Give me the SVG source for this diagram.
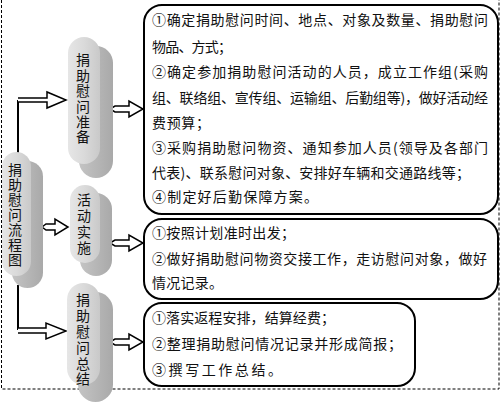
<svg xmlns="http://www.w3.org/2000/svg" xmlns:xlink="http://www.w3.org/1999/xlink" width="501" height="405" viewBox="0 0 501 405">
<style>
.frame{fill:none;stroke:#000;stroke-width:1;stroke-dasharray:3 2}
.box{fill:#fff;stroke:#000;stroke-width:2}
.face{fill:url(#gFace)}
.shadow{fill:url(#gShadow)}
.pt{font-family:"Noto Sans CJK SC","Noto Sans",sans-serif;font-size:14px;fill:#111;writing-mode:vertical-rl}
.bt{font-family:"Noto Sans CJK SC","Noto Sans",sans-serif;font-size:14px;fill:#111}
.arr{fill:#fff;stroke:#000;stroke-width:1.5;stroke-linejoin:miter}
.ln{fill:none;stroke:#000;stroke-width:2}
</style>
<defs>
<linearGradient id="gFace" x1="0" y1="0" x2="1" y2="0">
<stop offset="0" stop-color="#e6e6e6"/>
<stop offset="0.5" stop-color="#dadada"/>
<stop offset="1" stop-color="#c9c9c9"/>
</linearGradient>
<linearGradient id="gShadow" x1="0" y1="0" x2="1" y2="0">
<stop offset="0" stop-color="#c4c4c4"/>
<stop offset="1" stop-color="#a9a9a9"/>
</linearGradient>
<path id="arL" class="arr" d="M0,0 L5,-3 L19,-3 L19,-8 L33,0 L19,8 L19,3 L5,3 Z"/>
<path id="arS" class="arr" d="M0,0 L4,-3 L13,-3 L13,-8 L26,0 L13,8 L13,3 L4,3 Z"/>
</defs>
<rect width="501" height="405" fill="#fff"/>
<path class="frame" d="M1.5,0 V389 H499 V0"/>

<g id="connectors">
<path class="ln" d="M18,155 V100"/>
<path class="arr" d="M18,98 L47,98 L47,92 L66,100 L47,108 L47,102 L18,102"/>
<path class="ln" d="M18,285 V330"/>
<path class="arr" d="M18,328 L46,328 L46,323 L66,331 L46,339 L46,333 L18,333"/>
<use xlink:href="#arS" x="42" y="227"/>
<use xlink:href="#arL" x="110" y="109"/>
<use xlink:href="#arL" x="110" y="243"/>
<use xlink:href="#arL" x="110" y="342"/>
</g>

<g id="node-root">
<rect class="shadow" x="12" y="161" width="31" height="127" rx="15.5"/>
<rect class="face" x="2" y="152" width="29" height="124" rx="14.5"/>
<text class="pt" x="15" y="163" letter-spacing="1">捐助慰问流程图</text>
</g>

<g id="node-prepare">
<rect class="shadow" x="79" y="46" width="34" height="132" rx="17"/>
<rect class="face" x="68" y="37" width="32" height="127" rx="16"/>
<text class="pt" x="83" y="53" letter-spacing="1.4">捐助慰问准备</text>
</g>

<g id="node-implement">
<rect class="shadow" x="80" y="193" width="32" height="83" rx="16"/>
<rect class="face" x="70" y="185" width="30" height="78" rx="15"/>
<text class="pt" x="84" y="193" letter-spacing="2">活动实施</text>
</g>

<g id="node-summary">
<rect class="shadow" x="78" y="292" width="35" height="110" rx="17.5"/>
<rect class="face" x="67" y="283" width="33" height="102" rx="16.5"/>
<text class="pt" x="83" y="293" letter-spacing="1.8">捐助慰问总结</text>
</g>

<g id="box-prepare">
<rect class="box" x="144" y="5" width="354" height="209" rx="18"/>
<text class="bt" x="152" y="25" textLength="336" lengthAdjust="spacing">①确定捐助慰问时间、地点、对象及数量、捐助慰问</text>
<text class="bt" x="152" y="52" textLength="80" lengthAdjust="spacing">物品、方式；</text>
<text class="bt" x="152" y="77" textLength="336" lengthAdjust="spacing">②确定参加捐助慰问活动的人员，成立工作组(采购</text>
<text class="bt" x="152" y="103" textLength="336" lengthAdjust="spacing">组、联络组、宣传组、运输组、后勤组等)，做好活动经</text>
<text class="bt" x="152" y="128" textLength="58" lengthAdjust="spacing">费预算；</text>
<text class="bt" x="152" y="153" textLength="336" lengthAdjust="spacing">③采购捐助慰问物资、通知参加人员(领导及各部门</text>
<text class="bt" x="152" y="178" textLength="318" lengthAdjust="spacing">代表)、联系慰问对象、安排好车辆和交通路线等；</text>
<text class="bt" x="152" y="202" textLength="166" lengthAdjust="spacing">④制定好后勤保障方案。</text>
</g>

<g id="box-implement">
<rect class="box" x="144" y="219" width="354" height="80" rx="18"/>
<text class="bt" x="152" y="238" textLength="143" lengthAdjust="spacing">①按照计划准时出发；</text>
<text class="bt" x="152" y="264" textLength="335" lengthAdjust="spacing">②做好捐助慰问物资交接工作，走访慰问对象，做好</text>
<text class="bt" x="152" y="288" textLength="71" lengthAdjust="spacing">情况记录。</text>
</g>

<g id="box-summary">
<rect class="box" x="144" y="303" width="271" height="83" rx="18"/>
<text class="bt" x="152" y="323" textLength="183" lengthAdjust="spacing">①落实返程安排，结算经费；</text>
<text class="bt" x="152" y="349" textLength="250" lengthAdjust="spacing">②整理捐助慰问情况记录并形成简报；</text>
<text class="bt" x="152" y="375" textLength="130" lengthAdjust="spacing">③撰写工作总结。</text>
</g>
</svg>
